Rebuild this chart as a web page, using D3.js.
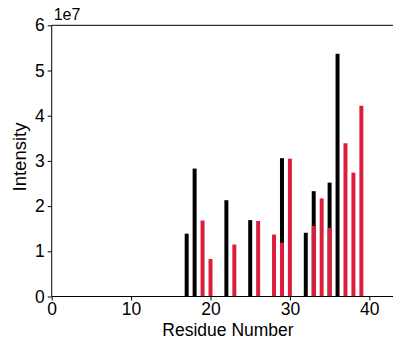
<!DOCTYPE html>
<html><head><meta charset="utf-8">
<script src="https://cdn.jsdelivr.net/npm/d3@7"></script>
<style>body{margin:0;background:#fff}svg{display:block}text{font-family:"Liberation Sans",Arial,sans-serif}</style>
</head><body><svg id="c" width="393" height="345"></svg>
<script>
const blackResidues = [17, 18, 22, 25, 29, 32, 33, 35, 36];
const blackValues = [1.39, 2.83, 2.13, 1.69, 3.06, 1.41, 2.33, 2.52, 5.37];
const redResidues = [19, 20, 23, 26, 28, 29, 30, 33, 34, 35, 37, 38, 39];
const redValues = [1.68, 0.83, 1.15, 1.67, 1.37, 1.19, 3.05, 1.56, 2.17, 1.52, 3.39, 2.74, 4.22];
const xTicks = [0, 10, 20, 30, 40];
const yTicks = [0, 1, 2, 3, 4, 5, 6];

const svg = d3.select("#c");
const x0 = 51.7, pxPerUnit = 7.94;
const x = d3.scaleLinear().domain([0, 43.5]).range([x0, x0 + 43.5 * pxPerUnit]);
const y = d3.scaleLinear().domain([0, 6]).range([296.5, 25.3]);
const bw = 0.5;

function bars(res, vals, color) {
  svg.append("g").selectAll("rect").data(res.map((r, i) => [r, vals[i]])).join("rect")
    .attr("x", d => x(d[0] - bw / 2)).attr("width", x(bw) - x(0))
    .attr("y", d => y(d[1])).attr("height", d => y(0) - y(d[1]))
    .attr("fill", color);
}
bars(blackResidues, blackValues, "#000");
bars(redResidues, redValues, "#dc1e3c");

const fs = 17.5;
const xa = svg.append("g").attr("transform", `translate(0,${y(0)})`)
  .call(d3.axisBottom(x).tickValues(xTicks).tickSize(4).tickPadding(2).tickFormat(d3.format("d")));
const ya = svg.append("g").attr("transform", `translate(${x0},0)`)
  .call(d3.axisLeft(y).tickValues(yTicks).tickSize(4).tickPadding(3).tickFormat(d3.format("d")));
[xa, ya].forEach(a => {
  a.selectAll("text").attr("font-size", fs).attr("fill", "#000").style("font-family", "Liberation Sans, Arial, sans-serif");
  a.selectAll("line").attr("stroke", "#000");
  a.select(".domain").attr("stroke", "#000");
});
xa.select(".domain").attr("d", `M${x0},0H400`);
ya.select(".domain").attr("d", `M0,${y(0)}V${y(6)}`);
// top spine
svg.append("line").attr("x1", x0).attr("x2", 400).attr("y1", y(6)).attr("y2", y(6)).attr("stroke", "#000");

svg.append("text").attr("x", x0 + 2).attr("y", y(6) - 5).attr("font-size", 16).text("1e7");
svg.append("text").attr("x", 228).attr("y", 336).attr("text-anchor", "middle").attr("font-size", 17.5).text("Residue Number");
svg.append("text").attr("transform", `translate(26,157) rotate(-90)`).attr("text-anchor", "middle").attr("font-size", 18.5).text("Intensity");
</script></body></html>
